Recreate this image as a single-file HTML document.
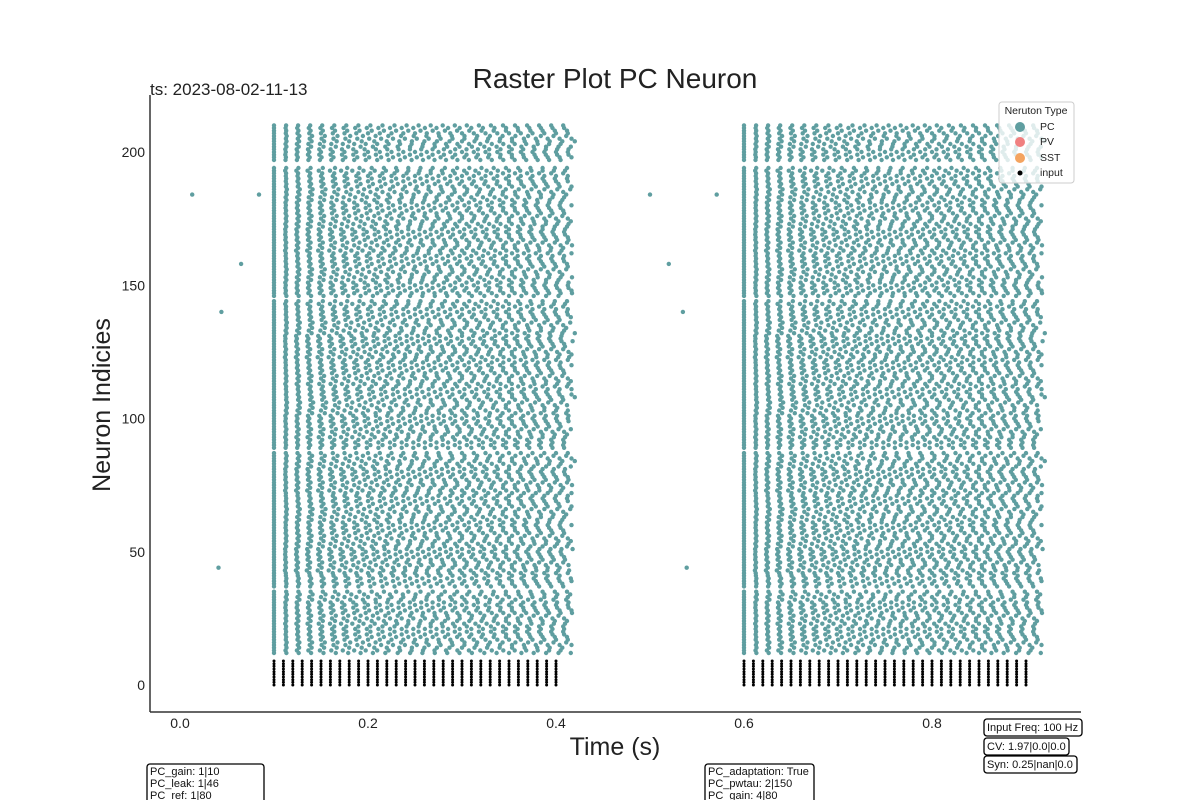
<!DOCTYPE html>
<html><head><meta charset="utf-8"><style>
html,body{margin:0;padding:0;background:#fff;}
svg{display:block;font-family:"Liberation Sans",sans-serif;}
</style></head><body>
<svg id="chart" width="1200" height="800" viewBox="0 0 1200 800">
<rect width="1200" height="800" fill="#fff"/>
<text x="615" y="88" text-anchor="middle" font-size="28" fill="#222">Raster Plot PC Neuron</text>
<text x="150" y="95" font-size="17" fill="#222">ts: 2023-08-02-11-13</text>
<text transform="translate(110,405) rotate(-90)" text-anchor="middle" font-size="25" fill="#222">Neuron Indicies</text>
<text x="615" y="755" text-anchor="middle" font-size="25" fill="#222">Time (s)</text>
<g id="marks"></g>
<g id="ticks"></g>
<line x1="150" y1="95" x2="150" y2="712" stroke="#333" stroke-width="1.5"/>
<line x1="150" y1="712" x2="1081" y2="712" stroke="#333" stroke-width="1.5"/>
<g>
<rect x="999" y="102" width="75" height="81" rx="3" fill="#fff" fill-opacity="0.8" stroke="#ccc"/>
<text x="1036" y="114" text-anchor="middle" font-size="10.5" fill="#222">Neruton Type</text>
<circle cx="1020" cy="127" r="5" fill="#5f9ea0"/><text x="1040" y="130" font-size="10.5" fill="#222">PC</text>
<circle cx="1020" cy="142" r="5" fill="#f08080"/><text x="1040" y="145" font-size="10.5" fill="#222">PV</text>
<circle cx="1020" cy="158" r="5" fill="#f4a460"/><text x="1040" y="161" font-size="10.5" fill="#222">SST</text>
<circle cx="1020" cy="173" r="2.5" fill="#000"/><text x="1040" y="176" font-size="10.5" fill="#222">input</text>
</g>
<g><rect x="984" y="719" width="98" height="17" rx="3" fill="#fff" stroke="#000" stroke-width="1.3"/><text x="987" y="731" font-size="11" fill="#111">Input Freq: 100 Hz</text></g>
<g><rect x="984" y="738" width="85" height="17" rx="3" fill="#fff" stroke="#000" stroke-width="1.3"/><text x="987" y="750" font-size="11" fill="#111">CV: 1.97|0.0|0.0</text></g>
<g><rect x="984" y="756" width="93" height="17" rx="3" fill="#fff" stroke="#000" stroke-width="1.3"/><text x="987" y="768" font-size="11" fill="#111">Syn: 0.25|nan|0.0</text></g>
<g><rect x="147" y="764" width="117" height="50" rx="3" fill="#fff" stroke="#000" stroke-width="1.3"/>
<text x="150" y="775" font-size="11" fill="#111">PC_gain: 1|10</text><text x="150" y="787" font-size="11" fill="#111">PC_leak: 1|46</text><text x="150" y="799" font-size="11" fill="#111">PC_ref: 1|80</text></g>
<g><rect x="705" y="764" width="109" height="50" rx="3" fill="#fff" stroke="#000" stroke-width="1.3"/>
<text x="708" y="775" font-size="11" fill="#111">PC_adaptation: True</text><text x="708" y="787" font-size="11" fill="#111">PC_pwtau: 2|150</text><text x="708" y="799" font-size="11" fill="#111">PC_gain: 4|80</text></g>
</svg>
<script>
const xTicks = [0.0, 0.2, 0.4, 0.6, 0.8];
const yTicks = [0, 50, 100, 150, 200];
const stimStarts = [0.1, 0.6];
const stimEnds = [0.42, 0.92];
const inputInterval = 0.01;
const inputCount = 31;
const inputNeurons = [0,1,2,3,4,5,6,7,8,9];
const pcFirst = 12, pcLast = 210;
const silentNeurons = [36, 88, 145, 195, 196];
const blockRates = [78, 80, 76, 82, 79, 77, 81, 78, 80, 76, 79, 82, 77, 80, 78, 81, 79, 77, 80, 78];
const rateOffsets = [0, 3, -2, 4, -3, 1, -4, 2, -1, 3];
const strayTimes = [0.013, 0.084, 0.065, 0.044, 0.041, 0.5, 0.571, 0.52, 0.535, 0.539];
const strayNeurons = [184, 184, 158, 140, 44, 184, 184, 158, 140, 44];

const sx = t => 180 + t * 940;
const sy = n => 685 - n * 2.665;
const NS = 'http://www.w3.org/2000/svg';
const marks = document.getElementById('marks');
const ticks = document.getElementById('ticks');
function dot(t, n, r, fill, name) {
  const c = document.createElementNS(NS, 'circle');
  c.setAttribute('cx', sx(t).toFixed(1));
  c.setAttribute('cy', sy(n).toFixed(1));
  c.setAttribute('r', r);
  c.setAttribute('fill', fill);
  
  
  marks.appendChild(c);
}
for (let n = pcFirst; n <= pcLast; n++) {
  if (silentNeurons.includes(n)) continue;
  const rate = blockRates[Math.floor((n - pcFirst) / 10) % blockRates.length] + rateOffsets[n % 10];
  for (let w = 0; w < stimStarts.length; w++) {
    const end = stimEnds[w] - (n % 3) * 0.003;
    for (let t = stimStarts[w]; t <= end; t += 1 / rate) dot(t, n, 2.2, '#5f9ea0', 'pc-spike');
  }
}
for (let i = 0; i < strayTimes.length; i++) dot(strayTimes[i], strayNeurons[i], 2.2, '#5f9ea0', 'pc-spike');
for (const n of inputNeurons) {
  for (let w = 0; w < stimStarts.length; w++) {
    for (let k = 0; k < inputCount; k++) dot(stimStarts[w] + k * inputInterval, n, 1.5, '#000', 'input-spike');
  }
}
for (const v of xTicks) {
  const t = document.createElementNS(NS, 'text');
  t.setAttribute('x', sx(v)); t.setAttribute('y', 728);
  t.setAttribute('text-anchor', 'middle'); t.setAttribute('font-size', '14'); t.setAttribute('fill', '#222');
  t.textContent = v.toFixed(1);
  
  
  ticks.appendChild(t);
}
for (const v of yTicks) {
  const t = document.createElementNS(NS, 'text');
  t.setAttribute('x', 145); t.setAttribute('y', sy(v) + 5);
  t.setAttribute('text-anchor', 'end'); t.setAttribute('font-size', '14'); t.setAttribute('fill', '#222');
  t.textContent = v;
  
  
  ticks.appendChild(t);
}
</script>
</body></html>
